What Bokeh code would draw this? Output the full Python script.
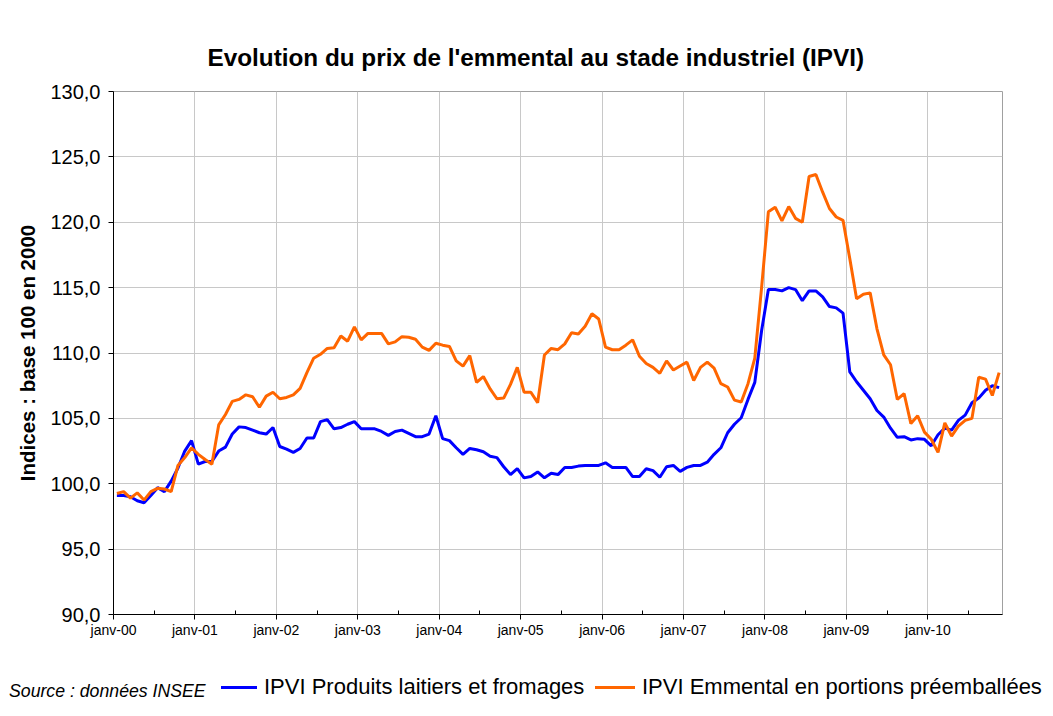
import numpy as np
from bokeh.plotting import figure
from bokeh.layouts import column
from bokeh.models import Range1d, FixedTicker, Div
from bokeh.embed import file_html
from bokeh.resources import INLINE

# ---- data -------------------------------------------------------------
year_labels = ["janv-00", "janv-01", "janv-02", "janv-03", "janv-04", "janv-05",
               "janv-06", "janv-07", "janv-08", "janv-09", "janv-10"]
y_ticks = [90, 95, 100, 105, 110, 115, 120, 125, 130]
y_tick_labels = ["90,0", "95,0", "100,0", "105,0", "110,0", "115,0", "120,0", "125,0", "130,0"]
series_names = ["IPVI Produits laitiers et fromages", "IPVI Emmental en portions préemballées"]
source_note = "Source : données INSEE"

# monthly indices, janv-00 .. nov-10
produits_laitiers = [
    99.1, 99.1, 99.0, 98.7, 98.55, 99.1, 99.7, 99.4, 100.2, 101.2, 102.5, 103.3,
    101.5, 101.7, 101.7, 102.5, 102.8, 103.8, 104.35, 104.3, 104.1, 103.9, 103.8, 104.3,
    102.85, 102.65, 102.4, 102.7, 103.5, 103.5, 104.75, 104.9, 104.2, 104.3, 104.55, 104.75,
    104.2, 104.2, 104.2, 104.0, 103.7, 104.0, 104.1, 103.85, 103.6, 103.6, 103.8, 105.2,
    103.45, 103.3, 102.75, 102.25, 102.7, 102.6, 102.45, 102.1, 102.0, 101.3, 100.7, 101.15,
    100.45, 100.55, 100.9, 100.45, 100.8, 100.7, 101.25, 101.25, 101.35, 101.4, 101.4, 101.4,
    101.6, 101.25, 101.25, 101.25, 100.55, 100.55, 101.15, 101.0, 100.5, 101.3, 101.4, 100.95,
    101.25, 101.4, 101.4, 101.65, 102.25, 102.75, 103.9, 104.55, 105.05, 106.45, 107.75, 111.7,
    114.85, 114.85, 114.75, 115.0, 114.85, 114.0, 114.75, 114.75, 114.3, 113.55, 113.45, 113.05,
    108.55, 107.8, 107.15, 106.5, 105.6, 105.1, 104.25, 103.55, 103.6, 103.35, 103.45, 103.4,
    102.9, 103.75, 104.25, 104.1, 104.85, 105.25, 106.2, 106.55, 107.15, 107.5, 107.35,
]
emmental_portions = [
    99.25, 99.4, 98.9, 99.3, 98.75, 99.4, 99.65, 99.6, 99.4, 101.4, 102.0, 102.75,
    102.25, 101.85, 101.5, 104.5, 105.3, 106.3, 106.45, 106.8, 106.65, 105.85, 106.7, 107.0,
    106.5, 106.6, 106.8, 107.3, 108.5, 109.6, 109.9, 110.35, 110.4, 111.3, 110.9, 112.0,
    111.0, 111.5, 111.5, 111.5, 110.7, 110.85, 111.25, 111.2, 111.05, 110.45, 110.2, 110.75,
    110.6, 110.5, 109.4, 109.0, 109.8, 107.75, 108.2, 107.25, 106.5, 106.55, 107.6, 108.9,
    107.0, 107.0, 106.2, 109.85, 110.35, 110.25, 110.7, 111.55, 111.45, 112.05, 113.0, 112.6,
    110.45, 110.25, 110.25, 110.6, 111.0, 109.75, 109.2, 108.9, 108.45, 109.4, 108.7, 109.0,
    109.3, 107.9, 108.9, 109.3, 108.85, 107.65, 107.4, 106.4, 106.25, 107.65, 109.6, 115.0,
    120.8, 121.15, 120.1, 121.2, 120.3, 120.0, 123.5, 123.65, 122.3, 121.05, 120.4, 120.15,
    117.2, 114.15, 114.5, 114.6, 111.85, 109.85, 109.1, 106.45, 106.9, 104.6, 105.2, 103.95,
    103.4, 102.4, 104.65, 103.65, 104.4, 104.85, 105.0, 108.15, 108.0, 106.75, 108.5,
]

FONT = "Liberation Sans"
BLUE = "#0000FF"
ORANGE = "#FF6600"
n = len(produits_laitiers)
x = np.arange(n) + 0.5

p = figure(width=1050, height=663, output_backend="svg", toolbar_location=None,
           x_range=Range1d(0, n), y_range=Range1d(90, 130),
           min_border_left=113, min_border_right=48, min_border_top=91, min_border_bottom=49)

p.title.text = "Evolution du prix de l'emmental au stade industriel (IPVI)"
p.title.text_font = FONT
p.title.text_font_size = "24.3px"
p.title.text_font_style = "bold"
p.title.text_color = "black"
p.title.align = "left"
p.title.offset = 94
p.title.standoff = 42

p.background_fill_color = "white"
p.border_fill_color = "white"
p.outline_line_color = "#a0a0a0"
p.outline_line_width = 1

r1 = p.line(x, produits_laitiers, line_color=BLUE, line_width=3)
r2 = p.line(x, emmental_portions, line_color=ORANGE, line_width=3)

# axes
xa = p.xaxis[0]
xa.ticker = FixedTicker(ticks=[12 * k for k in range(len(year_labels))],
                        minor_ticks=[12 * k + 6 for k in range(len(year_labels))])
xa.major_label_overrides = {12 * k: lab for k, lab in enumerate(year_labels)}
xa.major_label_text_font = FONT
xa.major_label_text_font_size = "14px"
xa.major_label_text_color = "black"
xa.major_label_standoff = 2
xa.major_tick_out = 5
xa.major_tick_in = 0
xa.minor_tick_in = 4
xa.minor_tick_out = 0
xa.axis_line_color = "black"
xa.major_tick_line_color = "black"
xa.minor_tick_line_color = "black"

ya = p.yaxis[0]
ya.ticker = FixedTicker(ticks=y_ticks)
ya.major_label_overrides = {t: lab for t, lab in zip(y_ticks, y_tick_labels)}
ya.major_label_text_font = FONT
ya.major_label_text_font_size = "20px"
ya.major_label_text_color = "black"
ya.major_label_standoff = 8
ya.major_tick_out = 5
ya.major_tick_in = 0
ya.minor_tick_line_color = None
ya.axis_line_color = "black"
ya.major_tick_line_color = "black"
ya.axis_label = "Indices : base 100 en 2000"
ya.axis_label_text_font = FONT
ya.axis_label_text_font_size = "20.5px"
ya.axis_label_text_font_style = "bold"
ya.axis_label_text_color = "black"
ya.axis_label_standoff = 8

p.xgrid.ticker = FixedTicker(ticks=[12 * k for k in range(len(year_labels))])
p.ygrid.ticker = FixedTicker(ticks=y_ticks)
p.xgrid.grid_line_color = "#c8c8c8"
p.ygrid.grid_line_color = "#c8c8c8"

# ---- legend row (source note + series keys) ---------------------------
base = f"position:absolute;white-space:nowrap;font-family:'{FONT}';color:black;"
legend_html = (
    '<div style="position:relative;width:1050px;height:48px;background:white;">'
    f'<span style="{base}left:9px;top:19px;font-size:17.7px;line-height:18px;font-style:italic;">{source_note}</span>'
    f'<span style="position:absolute;left:221px;top:23px;width:36px;height:3px;background:{BLUE};"></span>'
    f'<span style="{base}left:264px;top:13px;font-size:22px;line-height:22px;">{series_names[0]}</span>'
    f'<span style="position:absolute;left:595px;top:23px;width:40px;height:3px;background:{ORANGE};"></span>'
    f'<span style="{base}left:642px;top:13px;font-size:22px;line-height:22px;">{series_names[1]}</span>'
    '</div>'
)
legend_row = Div(text=legend_html, width=1050, height=48, margin=(0, 0, 0, 0))

layout = column(p, legend_row, spacing=0)
open("out.html", "w").write(file_html(layout, INLINE))
